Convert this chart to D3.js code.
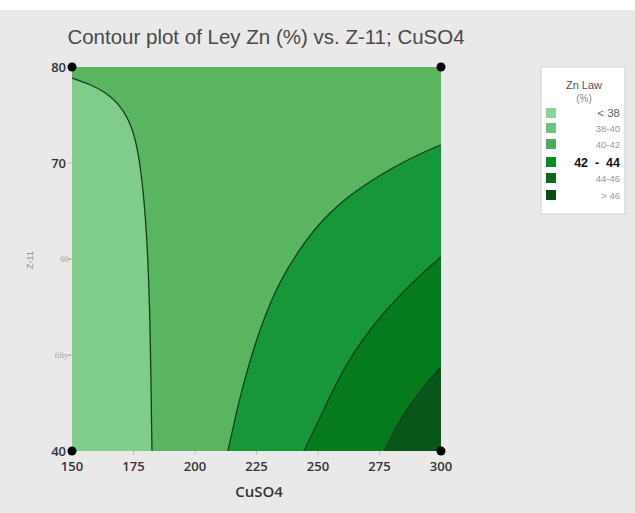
<!DOCTYPE html>
<html><head><meta charset="utf-8">
<script src="https://cdn.jsdelivr.net/npm/d3@7"></script>
<style>html,body{margin:0;padding:0;background:#e9e9e9;}svg{display:block;}</style>
</head><body>
<script>
// ---- data ----
const xDomain = [150, 300];
const yDomain = [40, 80];
const xTicks = [150, 175, 200, 225, 250, 275, 300];
const yTickValues = [40, 50, 60, 70, 80];
const yTickLabels = ["40", "fifty-", "60-", "70", "80"];
const yTickMajor = [true, false, false, true, true];
const legendLabels = ["< 38", "38-40", "40-42", "42  -  44", "44-46", "> 46"];
const legendColors = ["#8dd49c", "#6ec27e", "#4fab5b", "#0b8a27", "#096b18", "#0a4c15"];
const regionColors = ["#80cc8b", "#5ab561", "#18963a", "#067b1d", "#0a561a"];
// contour boundaries [CuSO4, Z-11]
const line38 = [[150,78.85],[157.3,78.2],[163.4,77.4],[168.7,76.25],[172.8,74.7],[176.0,72.4],[178.0,69.3],[179.7,65.1],[180.9,59.9],[181.7,53.6],[182.1,47.4],[182.5,40]];
const line40 = [[300,71.9],[287.4,70.5],[275.2,68.75],[263.0,66.7],[251.6,64.1],[242.7,61.1],[234.6,57.8],[227.6,53.6],[222.4,49.5],[217.9,45.3],[213.4,40]];
const line42 = [[300,60.2],[291.5,58.33],[283.3,56.25],[275.2,53.96],[267.9,51.56],[261.4,48.96],[255.7,46.15],[250.4,43.23],[244.3,40]];
const line44 = [[300,48.75],[293.5,46.9],[287.4,44.8],[281.3,42.4],[277.2,40]];
const cornerPoints = [[150,80],[300,80],[150,40],[300,40]];

// ---- layout ----
const W = 635, H = 513;
const L = 72, R = 441, T = 67, B = 451;
const svg = d3.select("body").append("svg").attr("width", W).attr("height", H);
svg.append("rect").attr("width", W).attr("height", H).attr("fill", "#e9e9e9");
svg.append("rect").attr("width", W).attr("height", 10).attr("fill", "#ffffff");

const x = d3.scaleLinear().domain(xDomain).range([L, R]);
const y = d3.scaleLinear().domain(yDomain).range([B, T]);
const line = d3.line().x(d => x(d[0])).y(d => y(d[1])).curve(d3.curveBasis);

svg.append("clipPath").attr("id", "clip").append("rect")
  .attr("x", L).attr("y", T).attr("width", R - L).attr("height", B - T);
const g = svg.append("g").attr("clip-path", "url(#clip)");

g.append("rect").attr("x", L).attr("y", T).attr("width", R - L).attr("height", B - T)
  .attr("fill", regionColors[1]);

function region(pts, extra, color) {
  const p = line(pts) + extra.map(c => "L" + x(c[0]) + "," + y(c[1])).join("") + "Z";
  g.append("path").attr("d", p).attr("fill", color).attr("stroke", "none");
}
region(line38, [[150,40]], regionColors[0]);
region(line40, [[300,40]], regionColors[2]);
region(line42, [[300,40]], regionColors[3]);
region(line44, [[300,40]], regionColors[4]);

[line38, line40, line42, line44].forEach(l => {
  g.append("path").attr("d", line(l)).attr("fill", "none")
    .attr("stroke", "#173d1c").attr("stroke-width", 1.3);
});

// ticks
svg.append("g").selectAll("line").data(xTicks).join("line")
  .attr("x1", d => x(d)).attr("x2", d => x(d)).attr("y1", B).attr("y2", B + 4)
  .attr("stroke", "#bbb");
svg.append("g").selectAll("line").data(yTickValues).join("line")
  .attr("x1", L - 4).attr("x2", L).attr("y1", d => y(d)).attr("y2", d => y(d))
  .attr("stroke", "#bbb");

svg.append("g").selectAll("text").data(xTicks).join("text")
  .attr("x", d => x(d)).attr("y", B + 20).attr("text-anchor", "middle")
  .attr("font-family", "Open Sans, sans-serif").attr("font-size", 13).attr("font-weight", 600)
  .attr("fill", "#333").text(d => d);

svg.append("g").selectAll("text").data(yTickValues).join("text")
  .attr("x", (d, i) => yTickMajor[i] ? L - 6 : L - 1)
  .attr("y", (d, i) => y(d) + (yTickMajor[i] ? 5 : 3))
  .attr("text-anchor", "end")
  .attr("font-family", (d, i) => yTickMajor[i] ? "Open Sans, sans-serif" : "Liberation Serif, serif")
  .attr("font-size", (d, i) => yTickMajor[i] ? 13 : 8)
  .attr("font-weight", (d, i) => yTickMajor[i] ? 600 : 400)
  .attr("fill", (d, i) => yTickMajor[i] ? "#333" : "#999")
  .text((d, i) => yTickLabels[i]);

// corner dots
svg.append("g").selectAll("circle").data(cornerPoints).join("circle")
  .attr("cx", d => x(d[0])).attr("cy", d => y(d[1])).attr("r", 4.5).attr("fill", "#000");

// titles
svg.append("text").attr("x", 266).attr("y", 44).attr("text-anchor", "middle")
  .attr("font-family", "Liberation Sans, Arial, sans-serif").attr("font-size", 20.5)
  .attr("fill", "#4a4a4a").text("Contour plot of Ley Zn (%) vs. Z-11; CuSO4");
svg.append("text").attr("x", 259).attr("y", 497).attr("text-anchor", "middle")
  .attr("font-family", "Open Sans, sans-serif").attr("font-size", 15).attr("font-weight", 600)
  .attr("fill", "#333").text("CuSO4");
svg.append("text").attr("transform", "translate(33,260) rotate(-90)").attr("text-anchor", "middle")
  .attr("font-family", "Liberation Sans, sans-serif").attr("font-size", 9)
  .attr("fill", "#888").text("Z-11");

// legend
const lg = svg.append("g");
lg.append("rect").attr("x", 541).attr("y", 67).attr("width", 84).attr("height", 147)
  .attr("fill", "#fff").attr("stroke", "#cfcfcf");
lg.append("text").attr("x", 584).attr("y", 89).attr("text-anchor", "middle")
  .attr("font-family", "Liberation Sans, sans-serif").attr("font-size", 11).attr("fill", "#555").text("Zn Law");
lg.append("text").attr("x", 584).attr("y", 102).attr("text-anchor", "middle")
  .attr("font-family", "Liberation Sans, sans-serif").attr("font-size", 10).attr("fill", "#888").text("(%)");
const rowsY = [113, 128, 144, 162, 178, 195];
legendLabels.forEach((lab, i) => {
  lg.append("rect").attr("x", 546).attr("y", rowsY[i] - 5).attr("width", 10).attr("height", 10)
    .attr("fill", legendColors[i]);
  const bold = i === 3;
  lg.append("text").attr("x", 620).attr("y", rowsY[i] + (bold ? 4.5 : 3.5)).attr("text-anchor", "end")
    .attr("font-family", "Liberation Sans, sans-serif")
    .attr("font-size", bold ? 12.5 : (i === 0 ? 11.5 : 9.5))
    .attr("font-weight", bold ? 700 : 400)
    .attr("fill", bold ? "#111" : (i === 0 ? "#666" : "#999"))
    .attr("xml:space", "preserve").style("white-space", "pre")
    .text(lab);
});
</script>
</body></html>
